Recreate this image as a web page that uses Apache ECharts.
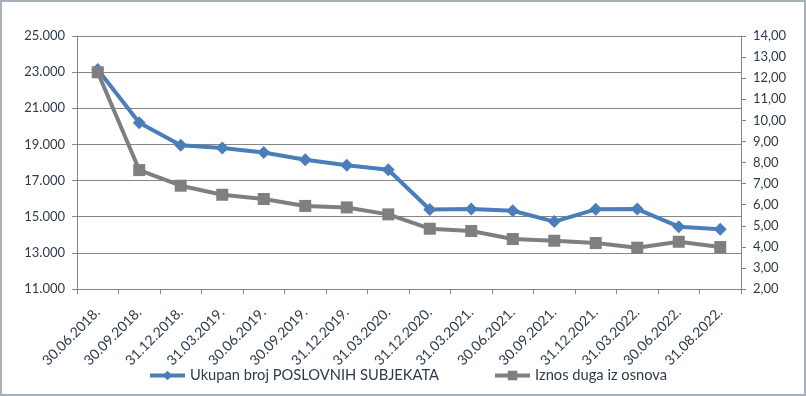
<!DOCTYPE html>
<html>
<head>
<meta charset="utf-8">
<script src="https://cdn.jsdelivr.net/npm/echarts@6/dist/echarts.min.js"></script>
<style>
html,body{margin:0;padding:0;background:#fff;}
#wrap{position:absolute;left:0;top:0;width:802px;height:392px;border:2px solid #a7b1bc;}
#chart{position:absolute;left:-2px;top:-2px;width:806px;height:396px;}
</style>
</head>
<body>
<div id="wrap"><div id="chart"></div></div>
<script>
const categories = ["30.06.2018.","30.09.2018.","31.12.2018.","31.03.2019.","30.06.2019.","30.09.2019.","31.12.2019.","31.03.2020.","31.12.2020.","31.03.2021.","30.06.2021.","30.09.2021.","31.12.2021.","31.03.2022.","30.06.2022.","31.08.2022."];
const subjekti = [23150, 20200, 18950, 18800, 18550, 18150, 17850, 17600, 15400, 15430, 15330, 14730, 15410, 15420, 14450, 14300];
const dug = [12.28, 7.64, 6.90, 6.47, 6.27, 5.94, 5.87, 5.54, 4.86, 4.75, 4.37, 4.29, 4.18, 3.96, 4.24, 3.99];
const seriesNames = ["Ukupan broj POSLOVNIH SUBJEKATA", "Iznos duga iz osnova"];

const txt = '#2e3b4a';
const gridCol = '#868686';
const font = 'Lato';
const chart = echarts.init(document.getElementById('chart'), null, {renderer:'canvas'});
chart.setOption({
  animation: false,
  textStyle: {fontFamily: font},
  grid: {left: 77, right: 65, top: 36, bottom: 107},
  legend: {
    left: 143, top: 363, itemWidth: 35, itemHeight: 12, itemGap: 54,
    lineStyle: {width: 4},
    textStyle: {fontFamily: font, fontSize: 14.7, color: txt},
    data: seriesNames
  },
  xAxis: {
    type: 'category', data: categories, boundaryGap: true,
    axisLine: {lineStyle: {color: gridCol, width: 1}},
    axisTick: {show: true, interval: 0, length: 5, lineStyle: {color: gridCol}},
    axisLabel: {interval: 0, rotate: 45, fontSize: 14, color: txt, fontFamily: font, margin: 21}
  },
  yAxis: [{
    type: 'value', min: 11000, max: 25000, interval: 2000,
    axisLine: {show: true, lineStyle: {color: gridCol}},
    axisTick: {show: true, length: 5, lineStyle: {color: gridCol}},
    splitLine: {show: true, lineStyle: {color: gridCol, width: 1}},
    axisLabel: {fontSize: 13, color: txt, fontFamily: font, margin: 12,
      formatter: v => (v/1000).toFixed(3)}
  }, {
    type: 'value', min: 2, max: 14, interval: 1, position: 'right',
    axisLine: {show: true, lineStyle: {color: gridCol}},
    axisTick: {show: true, length: 5, lineStyle: {color: gridCol}},
    splitLine: {show: false},
    axisLabel: {fontSize: 13, color: txt, fontFamily: font, margin: 12,
      formatter: v => v.toFixed(2).replace('.', ',')}
  }],
  series: [{
    name: seriesNames[0], type: 'line', yAxisIndex: 0, data: subjekti,
    symbol: 'diamond', symbolSize: 13,
    lineStyle: {color: '#4a7ebb', width: 4},
    itemStyle: {color: '#4a7ebb'}
  }, {
    name: seriesNames[1], type: 'line', yAxisIndex: 1, data: dug,
    symbol: 'rect', symbolSize: 12,
    lineStyle: {color: '#7f7f7f', width: 4},
    itemStyle: {color: '#7f7f7f'}
  }]
});
</script>
</body>
</html>
